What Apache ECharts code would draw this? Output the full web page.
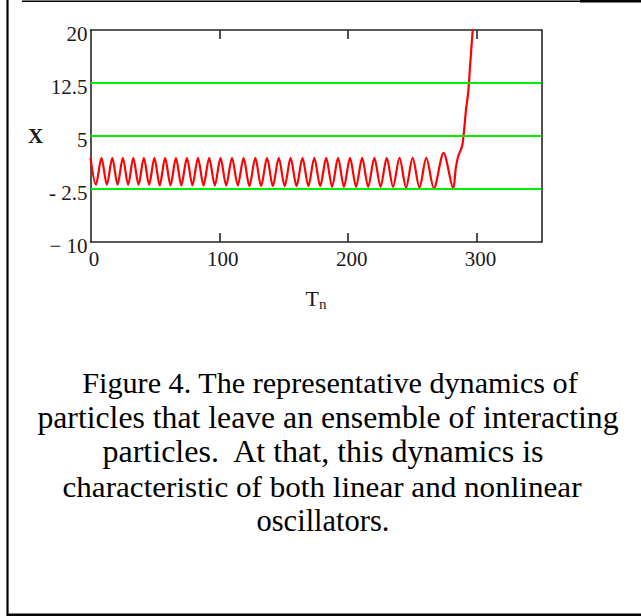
<!DOCTYPE html>
<html>
<head>
<meta charset="utf-8">
<script src="https://cdn.jsdelivr.net/npm/echarts@6/dist/echarts.min.js"></script>
<style>
html,body{margin:0;padding:0;background:#fff;}
#chart{width:641px;height:616px;}
</style>
</head>
<body>
<div id="chart"></div>
<script>
// ---- data ----
const xTickValues = [100, 200, 300];
const xLabelValues = [0, 100, 200, 300];
const yLabelValues = [-10, -2.5, 5, 12.5, 20];
const gridLineValues = [-2.5, 5, 12.5];
const seriesX = [
  0, 4.2, 8.5, 12.7, 16.9, 21.0, 25.1, 29.2, 33.2, 37.3, 41.4, 45.5, 49.6, 53.7, 57.9, 62.1,
  66.3, 70.5, 74.8, 79.1, 83.4, 87.7, 92.1, 96.5, 100.9, 105.3, 109.8, 114.3, 118.8, 123.3,
  127.9, 132.4, 137.0, 141.5, 146.1, 150.7, 155.3, 159.9, 164.5, 169.1, 173.7, 178.3, 182.9,
  187.5, 192.1, 196.7, 201.4, 206.1, 210.8, 215.5, 220.3, 225.1, 229.9, 234.8, 239.8, 244.9,
  250.0, 255.3, 260.6, 266.5, 274.0, 281.5, 283.5, 285.5, 288.3, 289.5, 291.3, 293.3, 294.6,
  296.0, 297.5
];
const seriesY = [
  1.9, -1.9, 1.9, -1.9, 1.9, -1.9, 1.9, -1.9, 1.9, -1.9, 1.9, -1.9, 1.9, -2.0, 1.9, -2.0,
  1.9, -2.0, 1.9, -2.0, 1.9, -2.0, 1.9, -2.0, 1.9, -2.0, 1.9, -2.0, 1.9, -2.1,
  1.9, -2.1, 1.9, -2.1, 1.9, -2.1, 1.9, -2.1, 1.9, -2.1, 1.9, -2.1, 1.9,
  -2.2, 1.9, -2.2, 1.9, -2.2, 1.9, -2.2, 1.9, -2.2, 1.9, -2.2, 1.9, -2.3,
  1.9, -2.3, 1.9, -2.4, 2.6, -2.4, 0.5, 2.2, 3.5, 5.0, 8.5, 11.5, 15.0,
  18.5, 22.0
];
const captionLines = [
  'Figure 4. The representative dynamics of',
  'particles that leave an ensemble of interacting',
  'particles.  At that, this dynamics is',
  'characteristic of both linear and nonlinear',
  'oscillators.'
];

// layout of the caption (not data)
const captionCenters = [330, 328, 323, 322, 323];
const captionScaleX = [0.99, 1.04, 1.05, 1.02, 1.0];

const serif = '"Liberation Serif", "Times New Roman", serif';
const axisColor = '#262626';
const labelColor = '#1a1a1a';

function yFmt(v) {
  if (v === -10) return '\u2212 10';
  if (v < 0) return '- ' + String(-v);
  return String(v);
}

const chart = echarts.init(document.getElementById('chart'), null, {renderer: 'svg'});

const captionGraphics = captionLines.map((t, i) => ({
  type: 'text',
  x: captionCenters[i],
  y: 383 + i * 34.6,
  scaleX: captionScaleX[i],
  style: {
    text: t,
    font: '30.5px ' + serif,
    fill: '#000',
    textAlign: 'center',
    textVerticalAlign: 'middle'
  },
  silent: true
}));

const option = {
  animation: false,
  backgroundColor: '#ffffff',
  grid: {left: 90.5, top: 30, right: 99.5, bottom: 374, containLabel: false},
  xAxis: [
    {
      type: 'value', min: 0, max: 350, position: 'bottom',
      axisLine: {show: true, onZero: false, lineStyle: {color: axisColor, width: 1.6}},
      axisTick: {show: true, inside: true, length: 9, customValues: xTickValues,
                 lineStyle: {color: axisColor, width: 1.6}},
      axisLabel: {show: true, customValues: xLabelValues, margin: 6,
                  fontFamily: serif, fontSize: 21, color: labelColor,
                  padding: [0, 0, 0, 7]},
      splitLine: {show: false},
      name: 'T{sub|n}', nameLocation: 'middle', nameGap: 44,
      nameTextStyle: {fontFamily: serif, fontSize: 22, color: labelColor,
        rich: {sub: {fontFamily: serif, fontSize: 15, color: labelColor, verticalAlign: 'bottom', padding: [10, 0, 0, 0]}}}
    },
    {
      type: 'value', min: 0, max: 350, position: 'top',
      axisLine: {show: true, onZero: false, lineStyle: {color: axisColor, width: 1.6}},
      axisTick: {show: true, inside: true, length: 9, customValues: xTickValues,
                 lineStyle: {color: axisColor, width: 1.6}},
      axisLabel: {show: false},
      splitLine: {show: false}
    }
  ],
  yAxis: [
    {
      type: 'value', min: -10, max: 20, position: 'left',
      axisLine: {show: true, onZero: false, lineStyle: {color: axisColor, width: 1.6}},
      axisTick: {show: false},
      axisLabel: {show: true, customValues: yLabelValues, formatter: yFmt, margin: 3,
                  fontFamily: serif, fontSize: 21, color: labelColor,
                  verticalAlign: 'top', lineHeight: 8},
      splitLine: {show: false},
      name: 'X', nameLocation: 'middle', nameRotate: 0, nameGap: 30,
      nameTextStyle: {fontFamily: serif, fontSize: 21, color: labelColor, fontWeight: 'bold'}
    },
    {
      type: 'value', min: -10, max: 20, position: 'right',
      axisLine: {show: true, onZero: false, lineStyle: {color: axisColor, width: 1.6}},
      axisTick: {show: false},
      axisLabel: {show: false},
      splitLine: {show: false}
    }
  ],
  series: [
    {
      type: 'line', data: [], z: 1, silent: true,
      markLine: {
        silent: true, symbol: ['none', 'none'], label: {show: false},
        lineStyle: {color: '#00ee00', type: 'solid', width: 2},
        data: gridLineValues.map(v => ({yAxis: v}))
      }
    },
    {
      type: 'line', z: 3, silent: true,
      data: seriesX.map((x, i) => [x, seriesY[i]]),
      showSymbol: false, smooth: 0.3, clip: true,
      lineStyle: {color: '#ff0000', width: 2.2}
    }
  ],
  graphic: [
    {type: 'line', shape: {x1: 7.5, y1: 0, x2: 7.5, y2: 616}, style: {stroke: '#000', lineWidth: 2.2}, silent: true},
    {type: 'line', shape: {x1: 22, y1: 1.2, x2: 580, y2: 1.2}, style: {stroke: '#000', lineWidth: 1.5}, silent: true},
    {type: 'line', shape: {x1: 580, y1: 1.2, x2: 641, y2: 1.2}, style: {stroke: '#000', lineWidth: 2.6}, silent: true},
    {type: 'line', shape: {x1: 7, y1: 614.8, x2: 641, y2: 614.8}, style: {stroke: '#000', lineWidth: 2.4}, silent: true}
  ].concat(captionGraphics)
};
chart.setOption(option);
</script>
</body>
</html>
